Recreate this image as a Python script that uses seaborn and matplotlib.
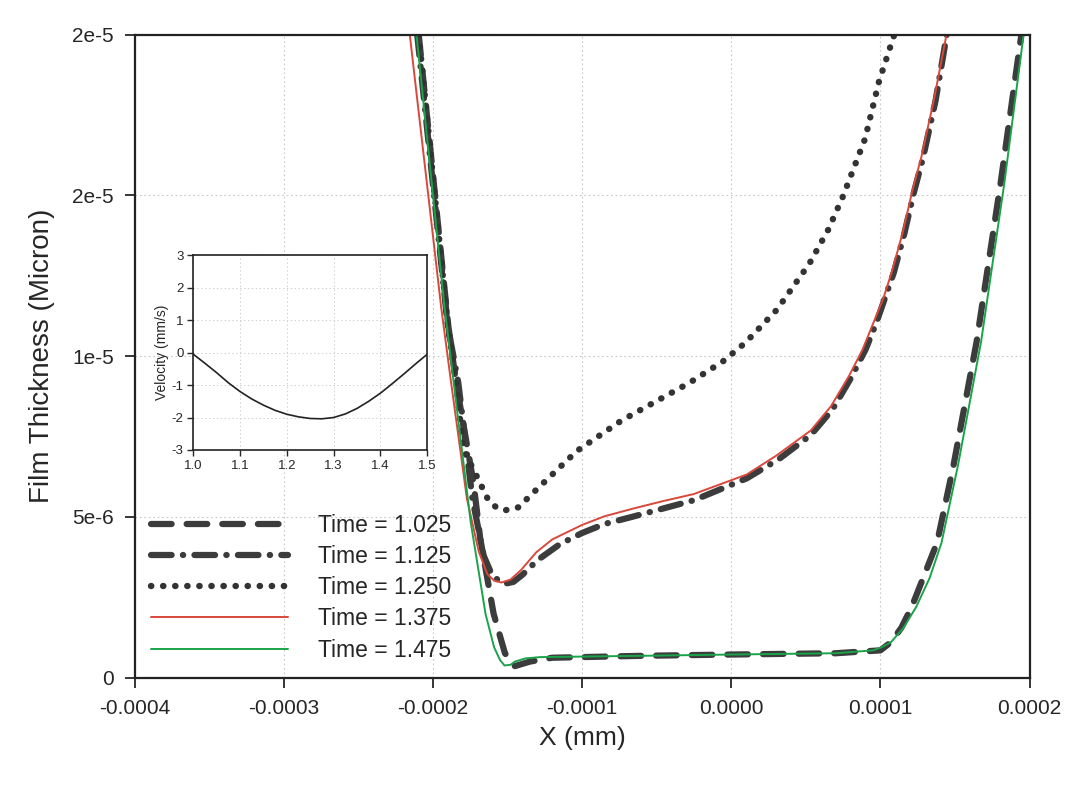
import matplotlib
matplotlib.use("Agg")
import matplotlib.pyplot as plt
import seaborn as sns
import numpy as np

# ---------------- data ----------------
x_1025 = [-0.0002095, -0.0001897, -0.0001845, -0.0001729, -0.0001683, -0.0001593,
          -0.0001517, -0.000145, -0.000135, -0.00012, -0.00006, 0.0, 0.00007,
          0.0001, 0.000107, 0.000114, 0.000121, 0.000138, 0.000149, 0.0001645, 0.0001805, 0.0001945]
y_1025 = [20e-6, 10.95e-6, 9.19e-6, 6.1e-6, 4.34e-6, 1.99e-6,
          0.76e-6, 0.36e-6, 0.5e-6, 0.62e-6, 0.68e-6, 0.72e-6, 0.76e-6,
          0.85e-6, 1.1e-6, 1.55e-6, 2.2e-6, 4.2e-6, 6.6e-6, 10.45e-6, 15.35e-6, 20e-6]

x_1125 = [-0.0002105, -0.00019, -0.000183, -0.0001735, -0.000166, -0.00016,
          -0.000152, -0.000146, -0.00014, -0.00013, -0.000115, -0.0001, -0.000085,
          -0.000065, -0.000045, -0.000025, 0.0000104, 0.000032, 0.0000534, 0.000068,
          0.00008, 0.00009, 0.000097, 0.000109, 0.000116, 0.0001225, 0.0001285,
          0.000137, 0.0001445]
y_1125 = [20e-6, 10.94e-6, 9.18e-6, 5.57e-6, 3.8e-6, 3.15e-6,
          2.92e-6, 2.98e-6, 3.2e-6, 3.65e-6, 4.15e-6, 4.5e-6, 4.78e-6,
          5.02e-6, 5.27e-6, 5.52e-6, 6.2e-6, 6.8e-6, 7.55e-6, 8.35e-6,
          9.3e-6, 10.2e-6, 11.0e-6, 12.6e-6, 13.8e-6, 15.1e-6, 16.15e-6,
          17.95e-6, 20e-6]

x_1250 = [-0.0002095, -0.00019, -0.0001845, -0.0001796, -0.0001696, -0.0001625,
          -0.000157, -0.0001522, -0.0001426, -0.0001326, -0.0001035, -0.0000735, -0.0000277,
          -0.0000055, 0.0000095, 0.0000307, 0.0000524, 0.000065, 0.0000749,
          0.0000897, 0.0000991, 0.0001093]
y_1250 = [20e-6, 10.95e-6, 9.2e-6, 7.1e-6, 6.17e-6, 5.49e-6,
          5.28e-6, 5.2e-6, 5.3e-6, 5.76e-6, 7.05e-6, 8.0e-6, 9.18e-6,
          9.84e-6, 10.42e-6, 11.45e-6, 12.88e-6, 13.93e-6, 14.97e-6,
          16.76e-6, 18.55e-6, 20e-6]

x_1375 = [-0.0002155, -0.0001944, -0.0001878, -0.0001772, -0.0001693, -0.0001635,
          -0.000159, -0.000154, -0.000148, -0.0001409, -0.0001307, -0.00012, -0.0001,
          -0.000085, -0.0000649, -0.000045, -0.0000252, 0.0000104, 0.00003,
          0.0000534, 0.000067, 0.0000789, 0.000088, 0.0000957, 0.000102,
          0.0001079, 0.000115, 0.0001215, 0.0001275, 0.000136, 0.0001441]
y_1375 = [20e-6, 11.5e-6, 9.18e-6, 5.57e-6, 3.93e-6, 3.22e-6,
          3.02e-6, 2.96e-6, 3.05e-6, 3.35e-6, 3.9e-6, 4.3e-6, 4.75e-6,
          5.02e-6, 5.27e-6, 5.5e-6, 5.71e-6, 6.32e-6, 6.9e-6,
          7.69e-6, 8.45e-6, 9.38e-6, 10.2e-6, 11.08e-6, 11.8e-6,
          12.66e-6, 13.85e-6, 15.16e-6, 16.2e-6, 18.0e-6, 19.95e-6]

x_1475 = [-0.000211, -0.0001924, -0.0001747, -0.0001647, -0.000159, -0.000155, -0.000152,
          -0.000148, -0.000145, -0.000138, -0.000128, -0.00006, 0.0, 0.00007, 0.000095,
          0.000101, 0.000107, 0.0001155, 0.000124, 0.000133, 0.000141, 0.000152,
          0.0001675, 0.000183, 0.000196]
y_1475 = [20e-6, 11.6e-6, 4.85e-6, 1.98e-6, 0.95e-6, 0.55e-6, 0.38e-6,
          0.4e-6, 0.5e-6, 0.6e-6, 0.64e-6, 0.68e-6, 0.72e-6, 0.76e-6, 0.85e-6,
          0.95e-6, 1.1e-6, 1.55e-6, 2.2e-6, 3.1e-6, 4.2e-6, 6.6e-6,
          10.45e-6, 15.35e-6, 20e-6]

series_labels = ["Time = 1.025", "Time = 1.125", "Time = 1.250", "Time = 1.375", "Time = 1.475"]

x_ticks = [-0.0004, -0.0003, -0.0002, -0.0001, 0.0, 0.0001, 0.0002]
x_tick_labels = ["-0.0004", "-0.0003", "-0.0002", "-0.0001", "0.0000", "0.0001", "0.0002"]
y_ticks = [0, 5e-6, 1e-5, 1.5e-5, 2e-5]
y_tick_labels = ["0", "5e-6", "1e-5", "2e-5", "2e-5"]

# inset: velocity vs time
t_inset = [1.0, 1.025, 1.05, 1.075, 1.1, 1.125, 1.15, 1.175, 1.2, 1.225, 1.25,
           1.275, 1.3, 1.325, 1.35, 1.375, 1.4, 1.425, 1.45, 1.475, 1.5]
v_inset = [-0.05, -0.33, -0.62, -0.93, -1.2, -1.43, -1.62, -1.78, -1.9, -1.98, -2.03,
           -2.04, -2.0, -1.89, -1.72, -1.5, -1.25, -0.96, -0.66, -0.35, -0.05]
inset_xticks = [1.0, 1.1, 1.2, 1.3, 1.4, 1.5]
inset_yticks = [-3, -2, -1, 0, 1, 2, 3]

# ---------------- styling ----------------
sns.set_style("white")
plt.rcParams["font.family"] = ["Liberation Sans", "DejaVu Sans"]
plt.rcParams["axes.unicode_minus"] = False

fig = plt.figure(figsize=(10.68, 7.88), dpi=100)
ax = fig.add_axes([0.126, 0.14, 0.838, 0.816])

grey = "#3c3c3c"
styles = [
    dict(color=grey, linewidth=4.5, linestyle=(0, (3.3, 2.4)), dash_capstyle="round"),
    dict(color=grey, linewidth=4.5, linestyle=(0, (3.3, 1.8, 0.05, 1.8)), dash_capstyle="round"),
    dict(color="#333333", linewidth=4.6, linestyle=(0, (0.05, 1.84)), dash_capstyle="round"),
    dict(color="#d9483b", linewidth=1.4, linestyle="-"),
    dict(color="#1aa34a", linewidth=1.4, linestyle="-"),
]
xs = [x_1025, x_1125, x_1250, x_1375, x_1475]
ys = [y_1025, y_1125, y_1250, y_1375, y_1475]

for xv, yv, lab, st in zip(xs, ys, series_labels, styles):
    sns.lineplot(x=np.array(xv), y=np.array(yv), ax=ax, label=lab, sort=False,
                 estimator=None, **st)

ax.set_xlim(-0.0004, 0.0002)
ax.set_ylim(0, 2e-5)
ax.set_xticks(x_ticks)
ax.set_xticklabels(x_tick_labels)
ax.set_yticks(y_ticks)
ax.set_yticklabels(y_tick_labels)
ax.tick_params(axis="both", direction="out", length=7, width=1.3, labelsize=15,
               bottom=True, left=True, top=False, right=False, pad=8)
ax.grid(True, linestyle=(0, (1.5, 2.5)), color="#c8c8c8", linewidth=0.8)
for sp in ax.spines.values():
    sp.set_visible(True)
    sp.set_color("#222222")
    sp.set_linewidth(1.6)
ax.set_xlabel("X (mm)", fontsize=19, labelpad=6)
ax.set_ylabel("Film Thickness (Micron)", fontsize=20, labelpad=12)

leg = ax.legend(loc="upper left", bbox_to_anchor=(0.0, 0.28), frameon=False,
                fontsize=16.5, handlelength=6.0, handletextpad=1.3, labelspacing=0.36,
                borderaxespad=0.3)

# inset
axi = fig.add_axes([0.181, 0.429, 0.219, 0.247])
sns.lineplot(x=np.array(t_inset), y=np.array(v_inset), ax=axi, color="#222222",
             linewidth=1.2, estimator=None)
axi.set_xlim(1.0, 1.5)
axi.set_ylim(-3, 3)
axi.set_xticks(inset_xticks)
axi.set_xticklabels([f"{v:.1f}" for v in inset_xticks])
axi.set_yticks(inset_yticks)
axi.tick_params(axis="both", direction="out", length=4, width=1, labelsize=9.5,
                bottom=True, left=True, pad=3)
axi.grid(True, linestyle=(0, (1.5, 2.5)), color="#d0d0d0", linewidth=0.7)
for sp in axi.spines.values():
    sp.set_visible(True)
    sp.set_color("#222222")
    sp.set_linewidth(1.2)
axi.set_ylabel("Velocity (mm/s)", fontsize=10, labelpad=2)
axi.set_xlabel("")

fig.savefig("out.png", dpi=100)
